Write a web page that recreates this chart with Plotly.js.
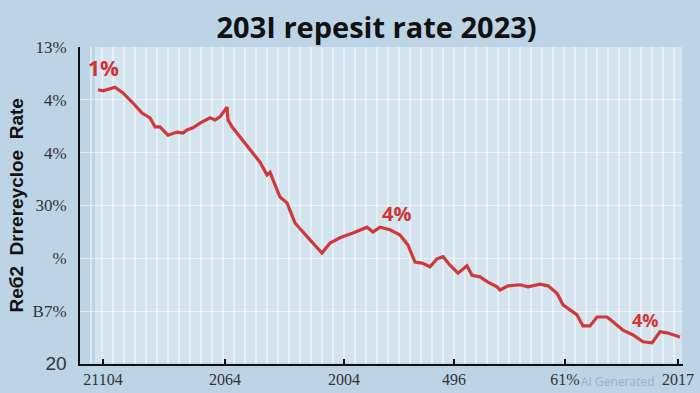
<!DOCTYPE html>
<html>
<head>
<meta charset="utf-8">
<script src="https://cdn.plot.ly/plotly-3.0.1.min.js"></script>
<style>
html,body{margin:0;padding:0;background:#bcd4e6;}
#chart{width:700px;height:393px;}
</style>
</head>
<body>
<div id="chart"></div>
<script>
// time index (arbitrary units along the x axis)
var periods = [18,23,35,43,53,62,70,75,80,88,97,103,107,113,120,130,135,140,147,148,152,160,170,180,187,190,195,200,207,215,230,242,250,260,273,287,293,300,310,320,328,335,342,350,357,363,370,378,387,392,400,408,417,420,428,440,448,460,468,477,483,490,497,503,510,517,527,533,543,553,563,572,580,587,595,600];
// rate values (axis units 0..6)
var rates = [5.19,5.17,5.24,5.13,4.94,4.75,4.66,4.49,4.49,4.33,4.39,4.37,4.43,4.47,4.56,4.66,4.62,4.68,4.86,4.62,4.49,4.30,4.05,3.82,3.58,3.63,3.39,3.16,3.05,2.67,2.35,2.10,2.29,2.39,2.48,2.59,2.50,2.59,2.54,2.44,2.25,1.93,1.91,1.84,1.99,2.03,1.87,1.72,1.86,1.68,1.65,1.55,1.46,1.40,1.48,1.50,1.46,1.51,1.48,1.34,1.12,1.02,0.93,0.72,0.72,0.89,0.89,0.80,0.64,0.55,0.42,0.40,0.61,0.59,0.55,0.51];

var xTickVals = [23,145,264,374,485,598];
var xTickText = ['21104','2064','2004','496','61%','2017'];
var yTickVals = [0,1,2,3,4,5,6];
var yTickText = ['<span style="font-family:Liberation Sans;font-size:19px">20</span>','B7%','%','30%','4%','4%','13%'];

var callouts = [
  {x: 23, y: 5.6, text: '1%', size: 21},
  {x: 316, y: 2.85, text: '4%', size: 20},
  {x: 565, y: 0.83, text: '4%', size: 18}
];

var trace = {
  x: periods, y: rates, type: 'scatter', mode: 'lines',
  line: {color: '#d0393b', width: 3.2, shape: 'linear'},
  hoverinfo: 'skip'
};

var annotations = callouts.map(function(c){
  return {x: c.x, y: c.y, xref: 'x', yref: 'y', text: '<b>' + c.text + '</b>', showarrow: false,
    font: {family: 'Open Sans, sans-serif', size: c.size, color: '#cf3437'}};
});
annotations.push({
  xref: 'paper', yref: 'paper', x: -0.106, xanchor: 'center', y: 0.50, yanchor: 'middle', textangle: -90,
  text: '<b>Reб2  Drrereycloe  Rate</b>', showarrow: false,
  font: {family: 'Liberation Sans, Arial, sans-serif', size: 19, color: '#111'}
});
annotations.push({
  xref: 'paper', yref: 'paper', x: 0.893, y: -0.055, yanchor: 'middle', xanchor: 'center',
  text: 'AI Generated', showarrow: false,
  font: {family: 'Open Sans, sans-serif', size: 12, color: '#9fb0bd'}
});

var layout = {
  width: 700, height: 393,
  margin: {l: 80, r: 17, t: 47, b: 29},
  paper_bgcolor: '#bcd4e6',
  plot_bgcolor: '#bcd4e6',
  showlegend: false,
  title: {text: '<b>203I repesit rate 2023)</b>', x: 0.538, xanchor: 'center', y: 0.928, yanchor: 'middle',
    font: {family: 'Open Sans, sans-serif', size: 29, color: '#111'}},
  xaxis: {
    range: [0, 603], tickmode: 'array', tickvals: xTickVals, ticktext: xTickText,
    showline: true, linecolor: '#111', linewidth: 2, ticks: 'inside', ticklen: 5, tickwidth: 2, tickcolor: '#111',
    ticklabelstandoff: 0,
    showgrid: false, zeroline: false,
    tickfont: {family: 'Liberation Serif, serif', size: 16, color: '#333'},
    minor: {dtick: 11, showgrid: true, gridcolor: 'rgba(255,255,255,0.45)', gridwidth: 1.5}
  },
  yaxis: {
    range: [0, 6], tickmode: 'array', tickvals: yTickVals, ticktext: yTickText,
    showline: true, linecolor: '#111', linewidth: 2, ticks: '', ticklabelstandoff: 8,
    showgrid: true, gridcolor: 'rgba(255,255,255,0.5)', gridwidth: 1, zeroline: false,
    tickfont: {family: 'Liberation Serif, serif', size: 17, color: '#333'}
  },
  shapes: [
    {type: 'rect', xref: 'x', yref: 'paper', x0: 15, x1: 602, y0: 0.005, y1: 1, fillcolor: '#d3e4ee', line: {width: 0}, layer: 'below'}
  ],
  annotations: annotations
};

Plotly.newPlot('chart', [trace], layout, {displayModeBar: false, staticPlot: true});
</script>
</body>
</html>
